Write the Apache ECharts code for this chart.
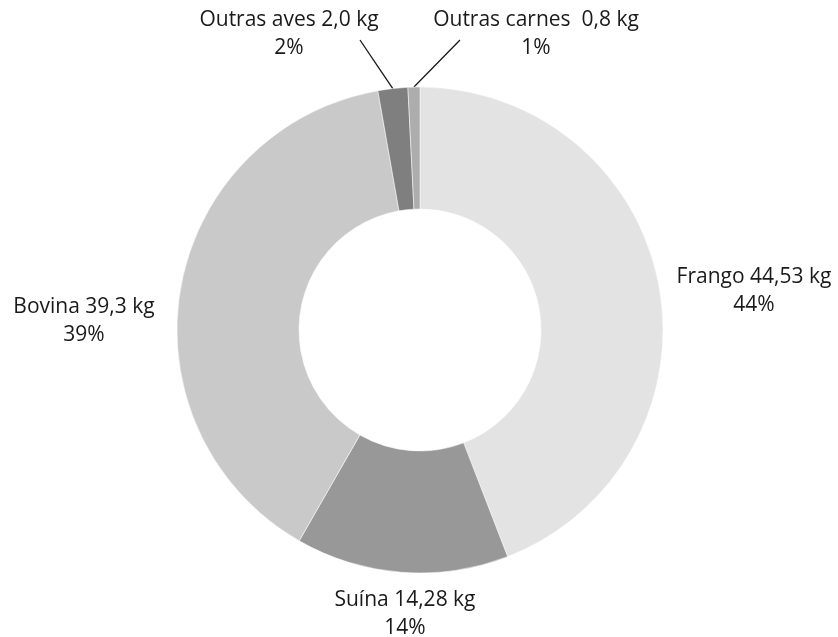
<!DOCTYPE html>
<html>
<head>
<meta charset="utf-8">
<script src="https://cdn.jsdelivr.net/npm/echarts@6/dist/echarts.min.js"></script>
<style>
  html, body { margin: 0; padding: 0; background: #fff; }
  #chart { width: 838px; height: 637px; }
</style>
</head>
<body>
<div id="chart"></div>
<script>
// consumo de carnes (kg)
var categorias = ["Frango", "Suína", "Bovina", "Outras aves", "Outras carnes "];
var valores = [44.53, 14.28, 39.3, 2.0, 0.8];
var casas = [2, 2, 1, 1, 1];
var cores = ["#e3e3e3", "#989898", "#c9c9c9", "#7f7f7f", "#adadad"];

var cx = 420, cy = 330, rIn = 121, rOut = 243;

// onde fica o texto de cada fatia
var spots = [
  [754, 291],
  [405, 614],
  [84, 321],
  [289, 34],
  [536, 34]
];
// fim da linha de chamada (só as fatias pequenas)
var lineEnds = { 3: [360, 40], 4: [460, 40] };

var total = valores.reduce(function (a, b) { return a + b; }, 0);

function midAngle(i) {
  var acc = 0;
  for (var k = 0; k < i; k++) acc += valores[k];
  acc += valores[i] / 2;
  return acc / total * 2 * Math.PI; // horario a partir do topo
}

var chart = echarts.init(document.getElementById("chart"));

var option = {
  animation: false,
  series: [
    {
      type: "pie",
      center: [cx, cy],
      radius: [rIn, rOut],
      startAngle: 90,
      clockwise: true,
      percentPrecision: 0,
      itemStyle: { borderColor: "#fff", borderWidth: 0.5 },
      label: {
        show: true,
        position: "outside",
        color: "#1a1a1a",
        fontFamily: "Open Sans",
        fontSize: 21,
        lineHeight: 28,
        align: "center",
        overflow: "none",
        formatter: function (p) {
          var i = p.dataIndex;
          var v = valores[i].toFixed(casas[i]).replace(".", ",");
          return p.name + " " + v + " kg\n" + p.percent + "%";
        }
      },
      labelLine: { show: false, lineStyle: { color: "#1a1a1a", width: 1.3 } },
      labelLayout: function (params) {
        var i = params.dataIndex;
        var out = {
          x: spots[i][0],
          y: spots[i][1],
          align: "center",
          verticalAlign: "middle"
        };
        if (lineEnds[i]) {
          var a = midAngle(i);
          var sx = cx + rOut * Math.sin(a);
          var sy = cy - rOut * Math.cos(a);
          var e = lineEnds[i];
          out.labelLinePoints = [[sx, sy], [(sx + e[0]) / 2, (sy + e[1]) / 2], e];
        }
        return out;
      },
      data: categorias.map(function (c, i) {
        return {
          name: c,
          value: valores[i],
          itemStyle: { color: cores[i] },
          labelLine: { show: !!lineEnds[i] }
        };
      })
    }
  ]
};

chart.setOption(option);
</script>
</body>
</html>
